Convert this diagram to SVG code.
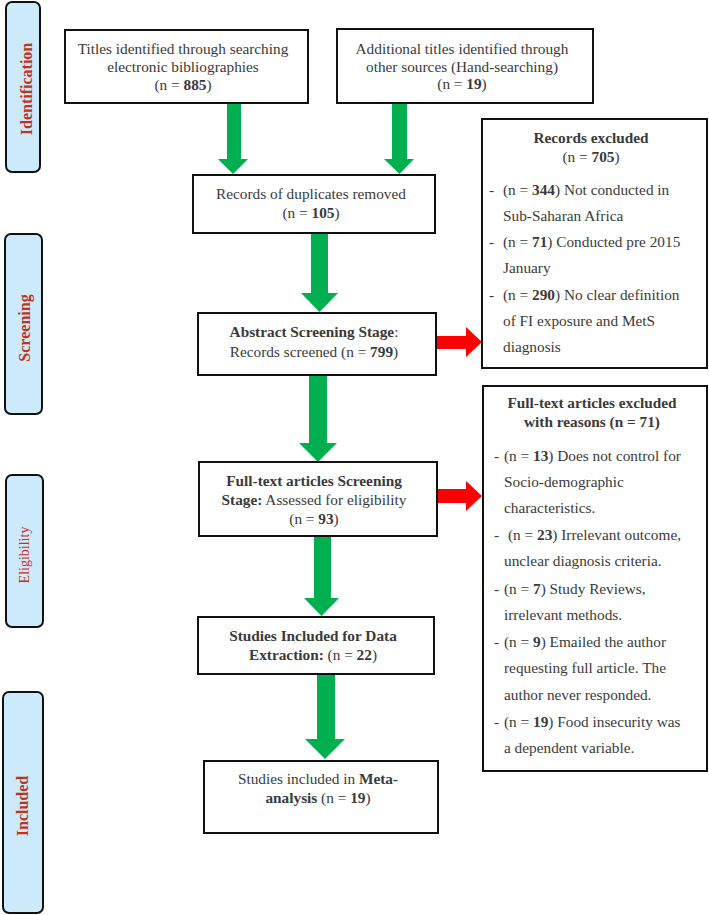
<svg xmlns="http://www.w3.org/2000/svg" width="709" height="915" viewBox="0 0 709 915">
<style>
.bar{fill:#cdeafb;stroke:#111;stroke-width:2}
.box{fill:#fff;stroke:#111;stroke-width:2}
.lab{font-family:"Liberation Serif","Times New Roman",serif;font-size:16px;font-weight:bold;fill:#c0321c;text-anchor:middle}
.t{font-family:"Liberation Serif","Times New Roman",serif;font-size:15.3px;fill:#3a3a3a}
.c{text-anchor:middle}
.b{font-weight:bold}
.g{fill:#00b050}
.r{fill:#ff0000}
</style>
<rect width="709" height="915" fill="#fff"/>
<g id="stage-identification">
<rect class="bar" x="6" y="2" width="34" height="170" rx="6"/>
<text class="lab" transform="translate(32,89) rotate(-90)">Identification</text>
</g>
<g id="stage-screening">
<rect class="bar" x="5" y="234" width="37" height="180" rx="6"/>
<text class="lab" transform="translate(30,328) rotate(-90)">Screening</text>
</g>
<g id="stage-eligibility">
<rect class="bar" x="6" y="475" width="37" height="152" rx="6"/>
<text class="lab" style="font-weight:normal;font-size:14px" transform="translate(29,555) rotate(-90)">Eligibility</text>
</g>
<g id="stage-included">
<rect class="bar" x="3" y="692" width="40" height="221" rx="6"/>
<text class="lab" transform="translate(28,806) rotate(-90)">Included</text>
</g>
<g id="connectors">
<polygon class="g" points="227,103 241,103 241,159 248,159 233,174 218,159 227,159"/>
<polygon class="g" points="392,103 407,103 407,159 414,159 399.5,174 384,159 392,159"/>
<polygon class="g" points="311,233 328,233 328,293 338,293 319.5,312 301,293 311,293"/>
<polygon class="g" points="309,375 327,375 327,443 337,443 318,462 299,443 309,443"/>
<polygon class="g" points="314,536 331,536 331,598 339,598 321.5,616 304,598 314,598"/>
<polygon class="g" points="317,674 335,674 335,739 345,739 325,759 305,739 317,739"/>
<polygon class="r" points="436,336 466,336 466,327 482,342 466,357 466,349 436,349"/>
<polygon class="r" points="437,489 466,489 466,481 482,496 466,511 466,503 437,503"/>
</g>
<g id="titles-searching">
<rect class="box" x="65" y="30" width="243" height="73"/>
<text class="t c" x="183" y="54">Titles identified through searching</text>
<text class="t c" x="183" y="72">electronic bibliographies</text>
<text class="t c" x="183" y="90">(n = <tspan class="b">885</tspan>)</text>
</g>
<g id="titles-other">
<rect class="box" x="337" y="29" width="256" height="74"/>
<text class="t c" x="462" y="54">Additional titles identified through</text>
<text class="t c" x="462" y="72">other sources (Hand-searching)</text>
<text class="t c" x="462" y="89">(n = <tspan class="b">19</tspan>)</text>
</g>
<g id="duplicates-removed">
<rect class="box" x="193" y="175" width="242" height="58"/>
<text class="t c" x="311" y="199">Records of duplicates removed</text>
<text class="t c" x="311" y="218">(n = <tspan class="b">105</tspan>)</text>
</g>
<g id="abstract-screening">
<rect class="box" x="198" y="313" width="238" height="62"/>
<text class="t c" x="314" y="337"><tspan class="b">Abstract Screening Stage</tspan>:</text>
<text class="t c" x="314" y="357">Records screened (n = <tspan class="b">799</tspan>)</text>
</g>
<g id="records-excluded">
<rect class="box" x="482" y="119" width="225" height="249"/>
<text class="t c b" x="591" y="143">Records excluded</text>
<text class="t c" x="591" y="162">(n = <tspan class="b">705</tspan>)</text>
<text class="t" x="489" y="195">-</text>
<text class="t" x="503" y="195">(n = <tspan class="b">344</tspan>) Not conducted in</text>
<text class="t" x="503" y="221">Sub-Saharan Africa</text>
<text class="t" x="489" y="247">-</text>
<text class="t" x="503" y="247">(n = <tspan class="b">71</tspan>) Conducted pre 2015</text>
<text class="t" x="503" y="273">January</text>
<text class="t" x="489" y="300">-</text>
<text class="t" x="503" y="300">(n = <tspan class="b">290</tspan>) No clear definition</text>
<text class="t" x="503" y="326">of FI exposure and MetS</text>
<text class="t" x="503" y="352">diagnosis</text>
</g>
<g id="fulltext-screening">
<rect class="box" x="199" y="462" width="238" height="74"/>
<text class="t c b" x="314" y="486">Full-text articles Screening</text>
<text class="t c" x="314" y="505"><tspan class="b">Stage:</tspan> Assessed for eligibility</text>
<text class="t c" x="314" y="524">(n = <tspan class="b">93</tspan>)</text>
</g>
<g id="fulltext-excluded">
<rect class="box" x="483" y="386" width="224" height="385"/>
<text class="t c b" x="592" y="408">Full-text articles excluded</text>
<text class="t c b" x="592" y="427">with reasons (n = 71)</text>
<text class="t" x="494" y="461">-</text>
<text class="t" x="504" y="461">(n = <tspan class="b">13</tspan>) Does not control for</text>
<text class="t" x="504" y="487">Socio-demographic</text>
<text class="t" x="504" y="513">characteristics.</text>
<text class="t" x="494" y="540">-</text>
<text class="t" x="508" y="540">(n = <tspan class="b">23</tspan>) Irrelevant outcome,</text>
<text class="t" x="504" y="566">unclear diagnosis criteria.</text>
<text class="t" x="494" y="594">-</text>
<text class="t" x="504" y="594">(n = <tspan class="b">7</tspan>) Study Reviews,</text>
<text class="t" x="504" y="620">irrelevant methods.</text>
<text class="t" x="494" y="647">-</text>
<text class="t" x="504" y="647">(n = <tspan class="b">9</tspan>) Emailed the author</text>
<text class="t" x="504" y="673">requesting full article. The</text>
<text class="t" x="504" y="700">author never responded.</text>
<text class="t" x="494" y="727">-</text>
<text class="t" x="504" y="727">(n = <tspan class="b">19</tspan>) Food insecurity was</text>
<text class="t" x="504" y="753">a dependent variable.</text>
</g>
<g id="studies-data-extraction">
<rect class="box" x="198" y="617" width="236" height="57"/>
<text class="t c b" x="313" y="641">Studies Included for Data</text>
<text class="t c" x="313" y="660"><tspan class="b">Extraction:</tspan> (n = <tspan class="b">22</tspan>)</text>
</g>
<g id="studies-meta-analysis">
<rect class="box" x="204" y="761" width="234" height="72"/>
<text class="t c" x="318" y="784">Studies included in <tspan class="b">Meta-</tspan></text>
<text class="t c" x="318" y="803"><tspan class="b">analysis</tspan> (n = <tspan class="b">19</tspan>)</text>
</g>
</svg>
